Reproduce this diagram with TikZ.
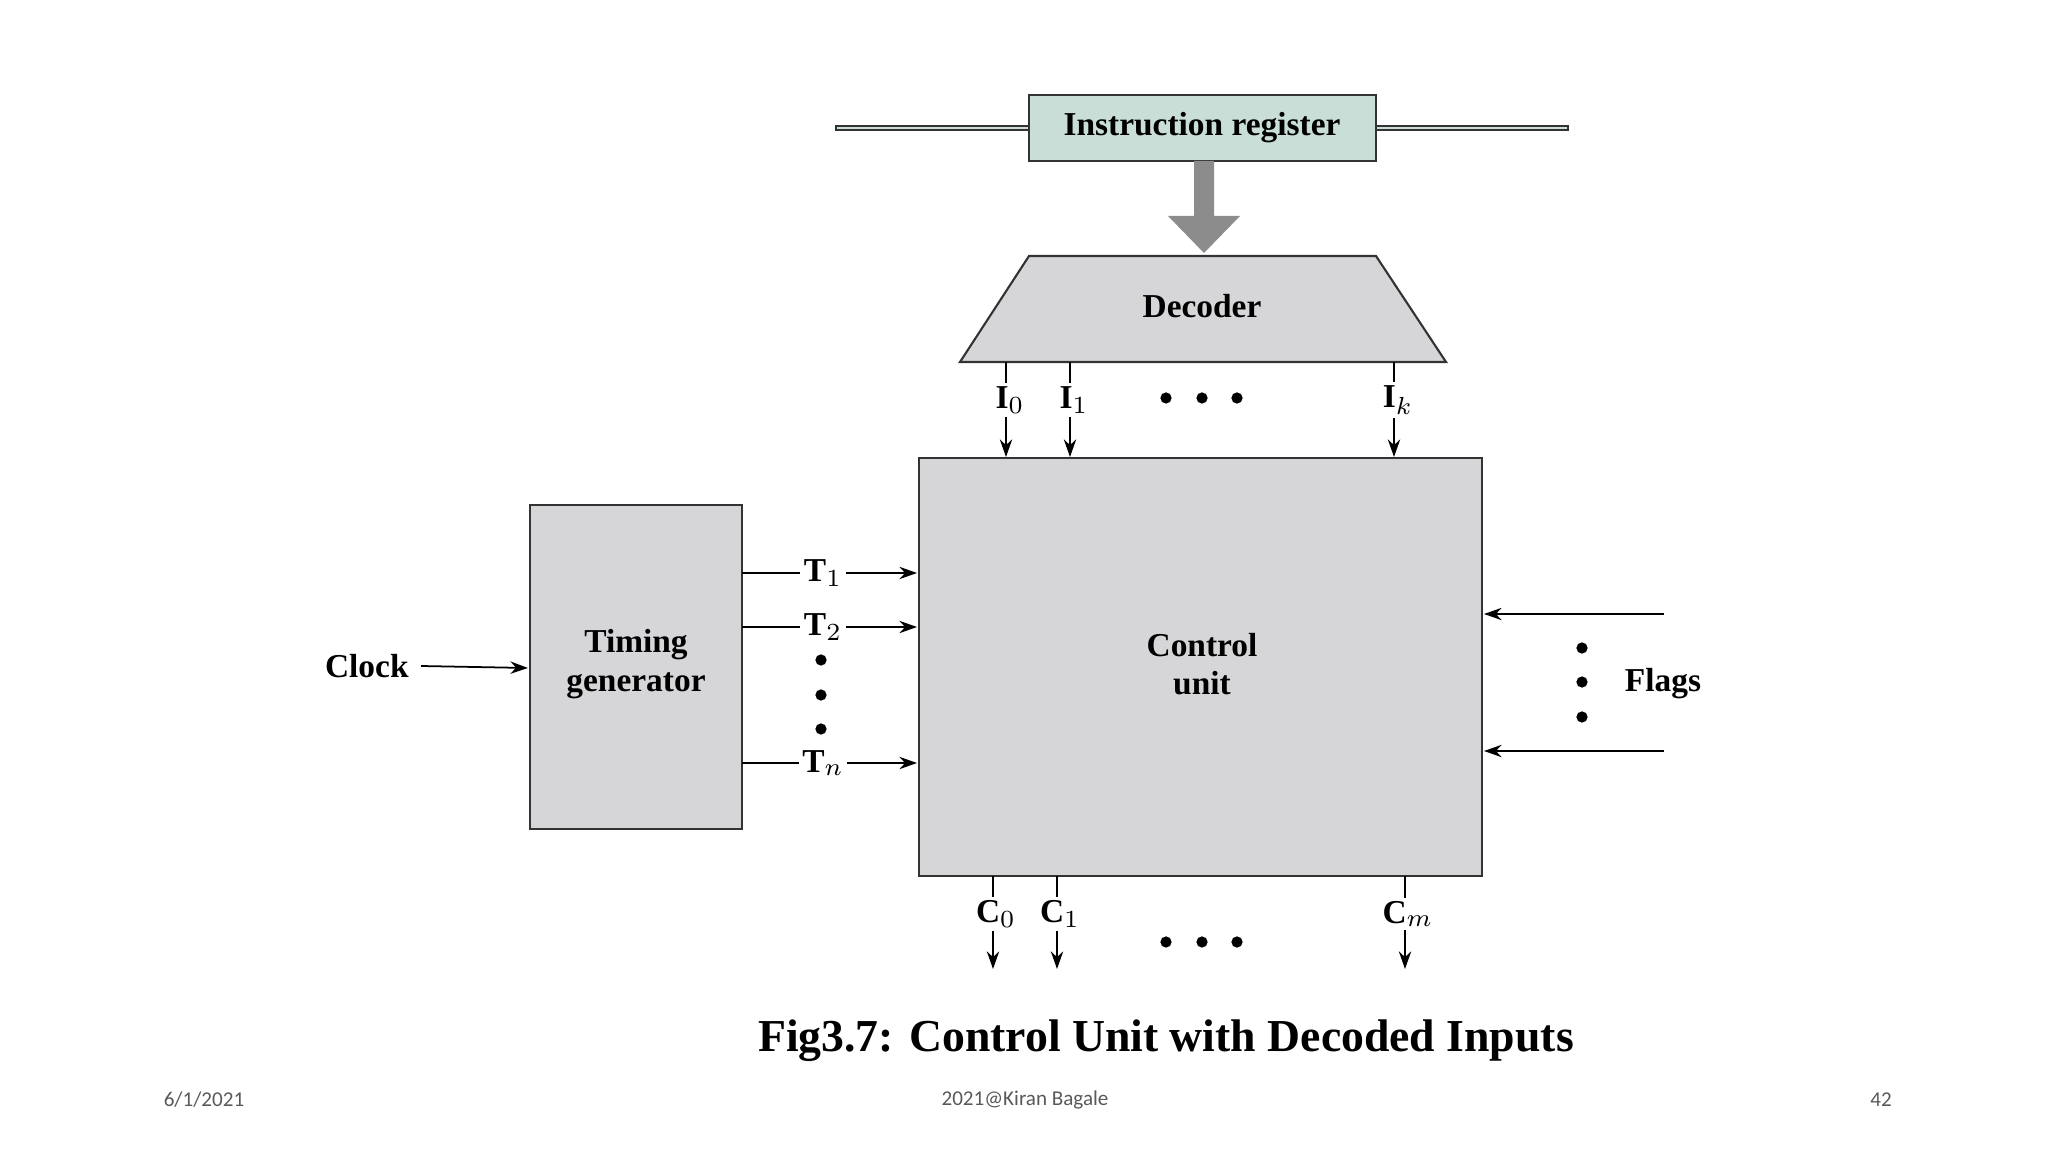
\documentclass[tikz,border=0pt]{standalone}
\usepackage{fontspec}
\setmainfont{Liberation Serif}
\newfontfamily\footfont{Carlito}
\usetikzlibrary{arrows.meta}
\definecolor{irfill}{RGB}{200,222,214}
\definecolor{boxfill}{RGB}{214,213,216}
\definecolor{bigarrow}{RGB}{140,140,140}
\begin{document}
\begin{tikzpicture}[x=0.01cm,y=-0.01cm,
    lbl/.style={font=\fontsize{9.5}{11}\selectfont\bfseries},
    blk/.style={draw=black!80,line width=0.6pt,fill=boxfill},
    sig/.style={line width=0.5pt,-{Stealth[length=5pt,width=3.5pt]}},
    dot/.style={circle,fill=black,inner sep=0pt,minimum size=3.2pt}]
\useasboundingbox (0,0) rectangle (2048,1152);

% instruction register and decoder
\node[draw=black!80,line width=0.6pt,fill=irfill,minimum width=347\pgflinewidth,
      inner sep=0pt] (ir) at (1202,128) {};
\draw[draw=black!80,line width=0.6pt,fill=irfill] (1029,95) rectangle (1376,161);
\node[lbl] (irt) at (1202,128) {Instruction register};
\fill[bigarrow] (1194,161) -- (1214,161) -- (1214,216) -- (1240,216)
    -- (1204,253) -- (1168,216) -- (1194,216) -- cycle;
\draw[blk] (1029,256) -- (1376,256) -- (1446,362) -- (960,362) -- cycle;
\node[lbl] (dec) at (1202,306) {Decoder};

% control unit and timing generator
\draw[blk] (919,458) rectangle (1482,876);
\node[lbl,align=center] (cu) at (1202,664) {Control\\unit};
\draw[blk] (530,505) rectangle (742,829);
\node[lbl,align=center] (tg) at (636,664) {Timing\\generator};

% decoder outputs
\foreach \x/\t in {1006/I$_0$,1070/I$_1$,1394/I$_k$}{
  \coordinate (a) at (\x,362); \coordinate (b) at (\x,457);
  \draw[sig] (a) -- (b);
  \node[lbl,fill=white,inner sep=1pt] at (\x+4,400) {\t};
}
\foreach \x in {1166,1202,1237} \node[dot] at (\x,398) {};

% timing signals
\foreach \y/\t in {573/T$_1$,627/T$_2$,763/T$_n$}{
  \coordinate (a) at (742,\y); \coordinate (b) at (917,\y);
  \draw[sig] (a) -- (b);
  \node[lbl,fill=white,inner sep=1pt] at (823,\y) {\t};
}
\foreach \y in {660,695,729} \node[dot] at (821,\y) {};

% clock
\node[lbl,anchor=east] (clk) at (421,666) {Clock};
\coordinate (tgw) at (528,668);
\draw[sig] (clk.east) -- (tgw);

% flags
\foreach \y in {614,751}{
  \coordinate (a) at (1664,\y); \coordinate (b) at (1484,\y);
  \draw[sig] (a) -- (b);
}
\foreach \y in {648,682,717} \node[dot] at (1582,\y) {};
\node[lbl] (fl) at (1663,684) {Flags};

% control outputs
\foreach \x/\t in {993/C$_0$,1057/C$_1$,1405/C$_m$}{
  \coordinate (a) at (\x,876); \coordinate (b) at (\x,969);
  \draw[sig] (a) -- (b);
  \node[lbl,fill=white,inner sep=1pt] at (\x+3,914) {\t};
}
\foreach \x in {1166,1202,1237} \node[dot] at (\x,942) {};

% caption and footer
\node[font=\fontsize{13}{15}\selectfont\bfseries] (cap) at (1166,1041)
    {Fig3.7: Control Unit with Decoded Inputs};
\node[font=\footfont\fontsize{6}{7}\selectfont,text=black!65] (f1) at (204,1100) {6/1/2021};
\node[font=\footfont\fontsize{6}{7}\selectfont,text=black!65] (f2) at (1025,1100) {2021@Kiran Bagale};
\node[font=\footfont\fontsize{6}{7}\selectfont,text=black!65] (f3) at (1881,1100) {42};
\end{tikzpicture}
\end{document}
